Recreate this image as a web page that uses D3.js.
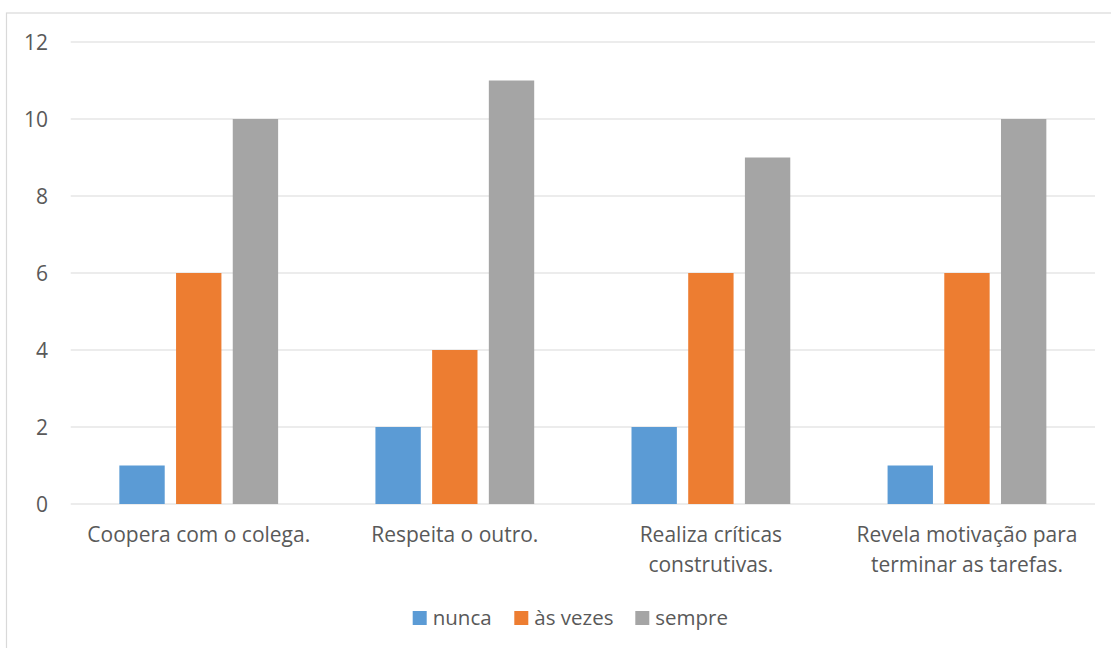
<!DOCTYPE html>
<html>
<head>
<meta charset="utf-8">
<script src="https://cdn.jsdelivr.net/npm/d3@7"></script>
<style>
  body { margin: 0; background: #fff; }
  text { font-family: "Open Sans", sans-serif; fill: #595959; }
</style>
</head>
<body>
<svg id="chart" width="1111" height="648"></svg>
<script>
const categories = [
    ["Coopera com o colega."],
    ["Respeita o outro."],
    ["Realiza críticas", "construtivas."],
    ["Revela motivação para", "terminar as tarefas."]
];
const seriesNames = ["nunca", "às vezes", "sempre"];
const nunca = [1, 2, 2, 1];
const asVezes = [6, 4, 6, 6];
const sempre = [10, 11, 9, 10];
const yTicks = [0, 2, 4, 6, 8, 10, 12];
const colors = ["#5B9BD5", "#ED7D31", "#A5A5A5"];

const width = 1111, height = 648;
const margin = {top: 42, right: 16, bottom: 144, left: 70.7};

const data = categories.map((c, i) => ({
    label: c,
    values: [nunca[i], asVezes[i], sempre[i]]
}));

const svg = d3.select("#chart");

// chart border (only left and top edges are in frame)
svg.append("rect")
    .attr("x", 6.5).attr("y", 13)
    .attr("width", 1300).attr("height", 800)
    .attr("fill", "none")
    .attr("stroke", "#D9D9D9")
    .attr("stroke-width", 1.2);

const x0 = d3.scaleBand()
    .domain(d3.range(categories.length))
    .range([margin.left, width - margin.right]);

const x1 = d3.scaleBand()
    .domain(d3.range(seriesNames.length))
    .range([0, x0.bandwidth()])
    .paddingInner(0.2)
    .paddingOuter(0.858);

const y = d3.scaleLinear()
    .domain([0, 12])
    .range([height - margin.bottom, margin.top]);

// gridlines
svg.append("g")
    .selectAll("line")
    .data(yTicks)
    .join("line")
    .attr("x1", margin.left)
    .attr("x2", width - margin.right)
    .attr("y1", d => y(d))
    .attr("y2", d => y(d))
    .attr("stroke", "#D9D9D9")
    .attr("stroke-width", 1.2);

// y axis labels
const yAxis = d3.axisLeft(y).tickValues(yTicks).tickSize(0).tickPadding(0);
const yg = svg.append("g")
    .attr("transform", `translate(48,0)`)
    .call(yAxis);
yg.select(".domain").remove();
yg.selectAll("text")
    .attr("font-size", 21)
    .attr("font-family", "Open Sans")
    .attr("fill", "#595959")
    .attr("dy", "0.35em");

// bars
const groups = svg.append("g")
    .selectAll("g")
    .data(data)
    .join("g")
    .attr("transform", (d, i) => `translate(${x0(i)},0)`);

groups.selectAll("rect")
    .data(d => d.values)
    .join("rect")
    .attr("x", (d, i) => x1(i))
    .attr("y", d => y(d))
    .attr("width", x1.bandwidth())
    .attr("height", d => y(0) - y(d))
    .attr("fill", (d, i) => colors[i]);

// category labels
const labels = svg.append("g")
    .selectAll("text")
    .data(data)
    .join("text")
    .attr("text-anchor", "middle")
    .attr("font-size", 21)
    .attr("transform", (d, i) => `translate(${x0(i) + x0.bandwidth() / 2},542)`);

labels.selectAll("tspan")
    .data(d => d.label)
    .join("tspan")
    .attr("x", 0)
    .attr("y", (d, i) => i * 30)
    .text(d => d);

// legend
const legendX = [412.7, 514.3, 635.3];
const legend = svg.append("g")
    .selectAll("g")
    .data(seriesNames)
    .join("g")
    .attr("transform", (d, i) => `translate(${legendX[i]},611)`);

legend.append("rect")
    .attr("width", 14)
    .attr("height", 14)
    .attr("fill", (d, i) => colors[i]);

legend.append("text")
    .attr("x", 20)
    .attr("y", 14)
    .attr("font-size", 20.5)
    .text(d => d);
</script>
</body>
</html>
